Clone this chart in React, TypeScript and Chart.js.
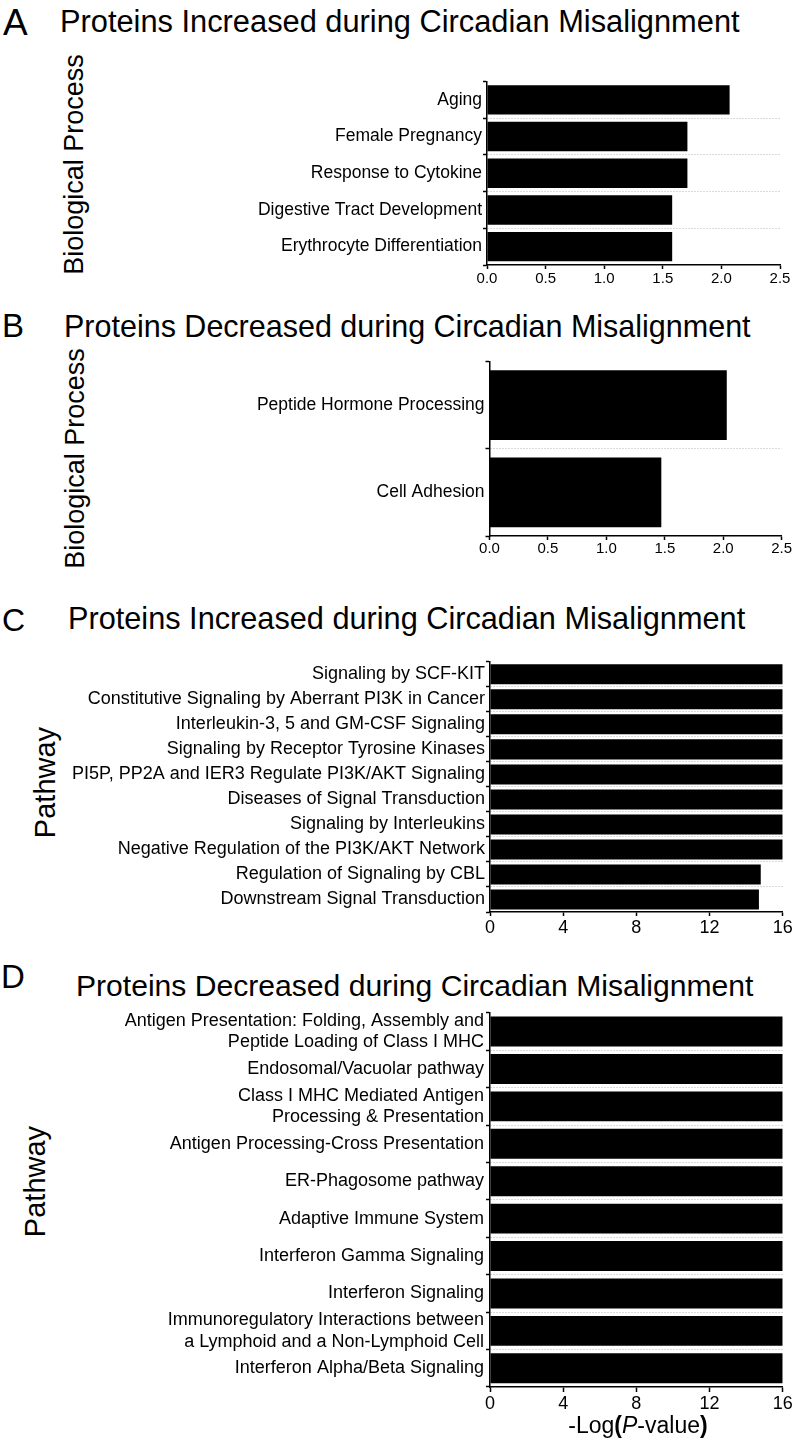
import React, { useEffect, useRef } from "react";
import { Chart, registerables } from "chart.js";

Chart.register(...registerables);

const FONT = '"Liberation Sans", Arial, Helvetica, sans-serif';

// ---- Data ----
const bpUpLabels = [
  "Aging",
  "Female Pregnancy",
  "Response to Cytokine",
  "Digestive Tract Development",
  "Erythrocyte Differentiation",
];
const bpUpValues = [2.07, 1.71, 1.71, 1.58, 1.58];

const bpDownLabels = ["Peptide Hormone Processing", "Cell Adhesion"];
const bpDownValues = [2.03, 1.47];

const pwUpLabels = [
  "Signaling by SCF-KIT",
  "Constitutive Signaling by Aberrant PI3K in Cancer",
  "Interleukin-3, 5 and GM-CSF Signaling",
  "Signaling by Receptor Tyrosine Kinases",
  "PI5P, PP2A and IER3 Regulate PI3K/AKT Signaling",
  "Diseases of Signal Transduction",
  "Signaling by Interleukins",
  "Negative Regulation of the PI3K/AKT Network",
  "Regulation of Signaling by CBL",
  "Downstream Signal Transduction",
];
const pwUpValues = [16, 16, 16, 16, 16, 16, 16, 16, 14.8, 14.7];

const pwDownLabels: (string | string[])[] = [
  ["Antigen Presentation: Folding, Assembly and", "Peptide Loading of Class I MHC"],
  "Endosomal/Vacuolar pathway",
  ["Class I MHC Mediated Antigen", "Processing & Presentation"],
  "Antigen Processing-Cross Presentation",
  "ER-Phagosome pathway",
  "Adaptive Immune System",
  "Interferon Gamma Signaling",
  "Interferon Signaling",
  ["Immunoregulatory Interactions between", "a Lymphoid and a Non-Lymphoid Cell"],
  "Interferon Alpha/Beta Signaling",
];
const pwDownValues = [16, 16, 16, 16, 16, 16, 16, 16, 16, 16];

const bpAxisMax = 2.5;
const bpAxisStep = 0.5;
const pwAxisMax = 16;
const pwAxisStep = 4;

type PanelProps = {
  top: number;
  height: number;
  labels: (string | string[])[];
  values: number[];
  chartLeft: number;
  chartRight: number;
  padTop: number;
  xAxisHeight: number;
  xMax: number;
  xStep: number;
  decimals: number;
  labelSize: number;
  tickSize: number;
  xTickLen: number;
  xTickPad: number;
  yTickPad: number;
};

function BarPanel(p: PanelProps) {
  const ref = useRef<HTMLCanvasElement>(null);
  useEffect(() => {
    const chart = new Chart(ref.current as HTMLCanvasElement, {
      type: "bar",
      data: {
        labels: p.labels as any,
        datasets: [
          {
            data: p.values,
            backgroundColor: "#000",
            borderWidth: 0,
            barPercentage: 0.8,
            categoryPercentage: 1,
          },
        ],
      },
      options: {
        indexAxis: "y",
        animation: false,
        responsive: false,
        maintainAspectRatio: false,
        layout: { padding: { left: 0, right: 796 - p.chartRight, top: p.padTop, bottom: 0 } },
        plugins: { legend: { display: false }, tooltip: { enabled: false } },
        scales: {
          y: {
            type: "category",
            position: "left",
            offset: true,
            grid: {
              offset: true,
              drawOnChartArea: true,
              drawTicks: true,
              tickLength: 4,
              tickColor: "#000",
              tickWidth: 1.5,
              lineWidth: 1,
              color: (c: any) =>
                c.type === "tick" && c.index > 0 ? "#b4b4b4" : "rgba(0,0,0,0)",
            },
            border: { display: true, color: "#000", width: 1.5, dash: [1, 2] },
            ticks: {
              autoSkip: false,
              color: "#000",
              font: { family: FONT, size: p.labelSize },
              padding: p.yTickPad,
            },
            afterFit: (s: any) => {
              s.width = p.chartLeft;
            },
          },
          x: {
            type: "linear",
            position: "bottom",
            min: 0,
            max: p.xMax,
            grid: {
              drawOnChartArea: false,
              drawTicks: true,
              tickLength: p.xTickLen,
              tickColor: "#000",
              tickWidth: 1.5,
            },
            border: { display: true, color: "#000", width: 1.5 },
            ticks: {
              stepSize: p.xStep,
              color: "#000",
              autoSkip: false,
              maxRotation: 0,
              font: { family: FONT, size: p.tickSize },
              padding: p.xTickPad,
              callback: (v: any) => Number(v).toFixed(p.decimals),
            },
            afterFit: (s: any) => {
              s.height = p.xAxisHeight;
            },
          },
        },
      },
    } as any);
    return () => chart.destroy();
  }, []);
  return (
    <canvas
      ref={ref}
      width={796}
      height={p.height}
      style={{ position: "absolute", left: 0, top: p.top, width: 796, height: p.height }}
    />
  );
}

function Txt(props: { x: number; baseline: number; size: number; children: any }) {
  const { x, baseline, size, children } = props;
  return (
    <div
      style={{
        position: "absolute",
        left: x,
        top: baseline - 0.8465 * size,
        fontSize: size,
        lineHeight: `${size}px`,
        whiteSpace: "nowrap",
      }}
    >
      {children}
    </div>
  );
}

function VText(props: { cx: number; cy: number; size: number; text: string }) {
  const { cx, cy, size, text } = props;
  return (
    <div
      style={{
        position: "absolute",
        left: cx - 150,
        top: cy - size / 2,
        width: 300,
        height: size,
        fontSize: size,
        lineHeight: `${size}px`,
        textAlign: "center",
        whiteSpace: "nowrap",
        transform: "rotate(-90deg)",
      }}
    >
      {text}
    </div>
  );
}

export default function App() {
  return (
    <div
      style={{
        position: "absolute",
        left: 0,
        top: 0,
        width: 796,
        height: 1442,
        background: "#fff",
        color: "#000",
        fontFamily: FONT,
        overflow: "hidden",
      }}
    >
      {/* Panel A */}
      <Txt x={3} baseline={35} size={37}>A</Txt>
      <Txt x={60} baseline={33} size={30.8}>Proteins Increased during Circadian Misalignment</Txt>
      <VText cx={73.6} cy={164} size={27} text="Biological Process" />
      <BarPanel
        top={70}
        height={230}
        labels={bpUpLabels}
        values={bpUpValues}
        chartLeft={487}
        chartRight={780}
        padTop={9.5}
        xAxisHeight={35}
        xMax={bpAxisMax}
        xStep={bpAxisStep}
        decimals={1}
        labelSize={17.5}
        tickSize={15}
        xTickLen={4}
        xTickPad={1}
        yTickPad={1}
      />

      {/* Panel B */}
      <Txt x={2} baseline={336.7} size={33}>B</Txt>
      <Txt x={64} baseline={336.7} size={30.5}>Proteins Decreased during Circadian Misalignment</Txt>
      <VText cx={74.6} cy={458.5} size={27} text="Biological Process" />
      <BarPanel
        top={350}
        height={221}
        labels={bpDownLabels}
        values={bpDownValues}
        chartLeft={489.5}
        chartRight={781.7}
        padTop={7.7}
        xAxisHeight={35}
        xMax={bpAxisMax}
        xStep={bpAxisStep}
        decimals={1}
        labelSize={17.5}
        tickSize={15}
        xTickLen={4}
        xTickPad={0}
        yTickPad={1}
      />

      {/* Panel C */}
      <Txt x={2} baseline={631} size={32}>C</Txt>
      <Txt x={68} baseline={630} size={30.7}>Proteins Increased during Circadian Misalignment</Txt>
      <VText cx={45} cy={782} size={29} text="Pathway" />
      <BarPanel
        top={650}
        height={297}
        labels={pwUpLabels}
        values={pwUpValues}
        chartLeft={490}
        chartRight={782.7}
        padTop={11.7}
        xAxisHeight={35}
        xMax={pwAxisMax}
        xStep={pwAxisStep}
        decimals={0}
        labelSize={18}
        tickSize={18}
        xTickLen={4}
        xTickPad={1}
        yTickPad={1}
      />

      {/* Panel D */}
      <Txt x={1} baseline={988} size={33}>D</Txt>
      <Txt x={76} baseline={996.7} size={30.1}>Proteins Decreased during Circadian Misalignment</Txt>
      <VText cx={35} cy={1181} size={29} text="Pathway" />
      <BarPanel
        top={1000}
        height={417}
        labels={pwDownLabels}
        values={pwDownValues}
        chartLeft={490}
        chartRight={782.7}
        padTop={11.7}
        xAxisHeight={30}
        xMax={pwAxisMax}
        xStep={pwAxisStep}
        decimals={0}
        labelSize={18}
        tickSize={18}
        xTickLen={5}
        xTickPad={1.5}
        yTickPad={2}
      />
      <div
        style={{
          position: "absolute",
          left: 438,
          width: 400,
          top: 1433.3 - 0.8465 * 23,
          fontSize: 23,
          lineHeight: "23px",
          textAlign: "center",
          whiteSpace: "nowrap",
        }}
      >
        -Log<b>(</b><i>P</i>-value<b>)</b>
      </div>
    </div>
  );
}
